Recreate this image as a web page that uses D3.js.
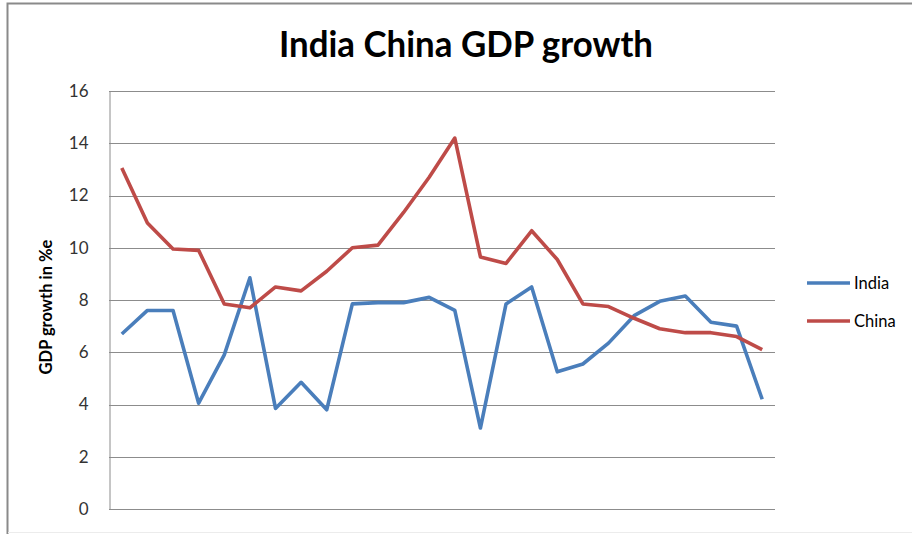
<!DOCTYPE html>
<html>
<head>
<meta charset="utf-8">
<script src="https://cdn.jsdelivr.net/npm/d3@7"></script>
<style>
  html, body { margin: 0; padding: 0; background: #fff; }
  svg { display: block; }
</style>
</head>
<body>
<svg id="chart" width="912" height="534"></svg>
<script>
// Annual real GDP growth, %
const years = [1994, 1995, 1996, 1997, 1998, 1999, 2000, 2001, 2002, 2003, 2004, 2005, 2006,
               2007, 2008, 2009, 2010, 2011, 2012, 2013, 2014, 2015, 2016, 2017, 2018, 2019];
const india = [6.7, 7.6, 7.6, 4.05, 5.9, 8.85, 3.85, 4.85, 3.8, 7.85, 7.9, 7.9, 8.1,
               7.6, 3.1, 7.85, 8.5, 5.25, 5.55, 6.35, 7.4, 7.95, 8.15, 7.15, 7.0, 4.2];
const china = [13.05, 10.95, 9.95, 9.9, 7.85, 7.7, 8.5, 8.35, 9.1, 10.0, 10.1, 11.35, 12.7,
               14.2, 9.65, 9.4, 10.65, 9.55, 7.85, 7.75, 7.3, 6.9, 6.75, 6.75, 6.6, 6.1];
const seriesNames = ["India", "China"];
const yTicks = [0, 2, 4, 6, 8, 10, 12, 14, 16];

const series = [
  { name: seriesNames[0], values: india, color: "#4A7EBB" },
  { name: seriesNames[1], values: china, color: "#BE4B48" }
];

const svg = d3.select("#chart");
const plot = { left: 109, right: 775, top: 91, bottom: 509 };
const font = "Lato, 'Open Sans', 'Noto Sans', sans-serif";

// outer chart frame
svg.append("path")
  .attr("d", `M7.5,540 V3.5 H920`)
  .attr("fill", "none")
  .attr("stroke", "#8a8a8a")
  .attr("stroke-width", 2);
svg.append("line")
  .attr("x1", 8).attr("x2", 912).attr("y1", 532.5).attr("y2", 532.5)
  .attr("stroke", "#ececec").attr("stroke-width", 1);

const x = d3.scaleBand().domain(years).range([plot.left, plot.right]);
const y = d3.scaleLinear().domain([0, 16]).range([plot.bottom, plot.top]);

// horizontal gridlines
svg.append("g")
  .selectAll("line")
  .data(yTicks.filter(t => t > 0))
  .join("line")
  .attr("x1", plot.left).attr("x2", plot.right)
  .attr("y1", d => Math.round(y(d)) + 0.5).attr("y2", d => Math.round(y(d)) + 0.5)
  .attr("stroke", "#8c8c8c").attr("stroke-width", 1);

// value axis
const yAxis = svg.append("g")
  .attr("transform", `translate(${plot.left + 0.5},0)`)
  .call(d3.axisLeft(y).tickValues(yTicks).tickSize(0).tickPadding(21));
yAxis.select(".domain").attr("stroke", "#8c8c8c");
yAxis.selectAll("text")
  .attr("font-family", font).attr("font-size", 17).attr("fill", "#333");

// category axis line (no labels)
svg.append("line")
  .attr("x1", plot.left).attr("x2", plot.right)
  .attr("y1", plot.bottom + 0.5).attr("y2", plot.bottom + 0.5)
  .attr("stroke", "#8c8c8c").attr("stroke-width", 1);

// series lines
const line = d3.line()
  .x((d, i) => x(years[i]) + x.bandwidth() / 2)
  .y(d => y(d));

svg.append("g")
  .selectAll("path")
  .data(series)
  .join("path")
  .attr("d", d => line(d.values))
  .attr("fill", "none")
  .attr("stroke", d => d.color)
  .attr("stroke-width", 3.6)
  .attr("stroke-linejoin", "round");

// title
svg.append("text")
  .attr("x", 466).attr("y", 57)
  .attr("text-anchor", "middle")
  .attr("font-family", font).attr("font-weight", "bold").attr("font-size", 36)
  .attr("fill", "#000")
  .attr("textLength", 374).attr("lengthAdjust", "spacingAndGlyphs")
  .text("India China GDP growth");

// value axis title
svg.append("text")
  .attr("transform", "translate(52,307) rotate(-90)")
  .attr("text-anchor", "middle")
  .attr("font-family", font).attr("font-weight", "bold").attr("font-size", 16.5)
  .attr("fill", "#000")
  .text("GDP growth in %e");

// legend
const legend = svg.append("g")
  .selectAll("g")
  .data(series)
  .join("g")
  .attr("transform", (d, i) => `translate(807,${283 + i * 38})`);
legend.append("line")
  .attr("x1", 0).attr("x2", 43)
  .attr("stroke", d => d.color).attr("stroke-width", 3.6);
legend.append("text")
  .attr("x", 47).attr("y", 6)
  .attr("font-family", font).attr("font-size", 16.5).attr("fill", "#000")
  .text(d => d.name);
</script>
</body>
</html>
